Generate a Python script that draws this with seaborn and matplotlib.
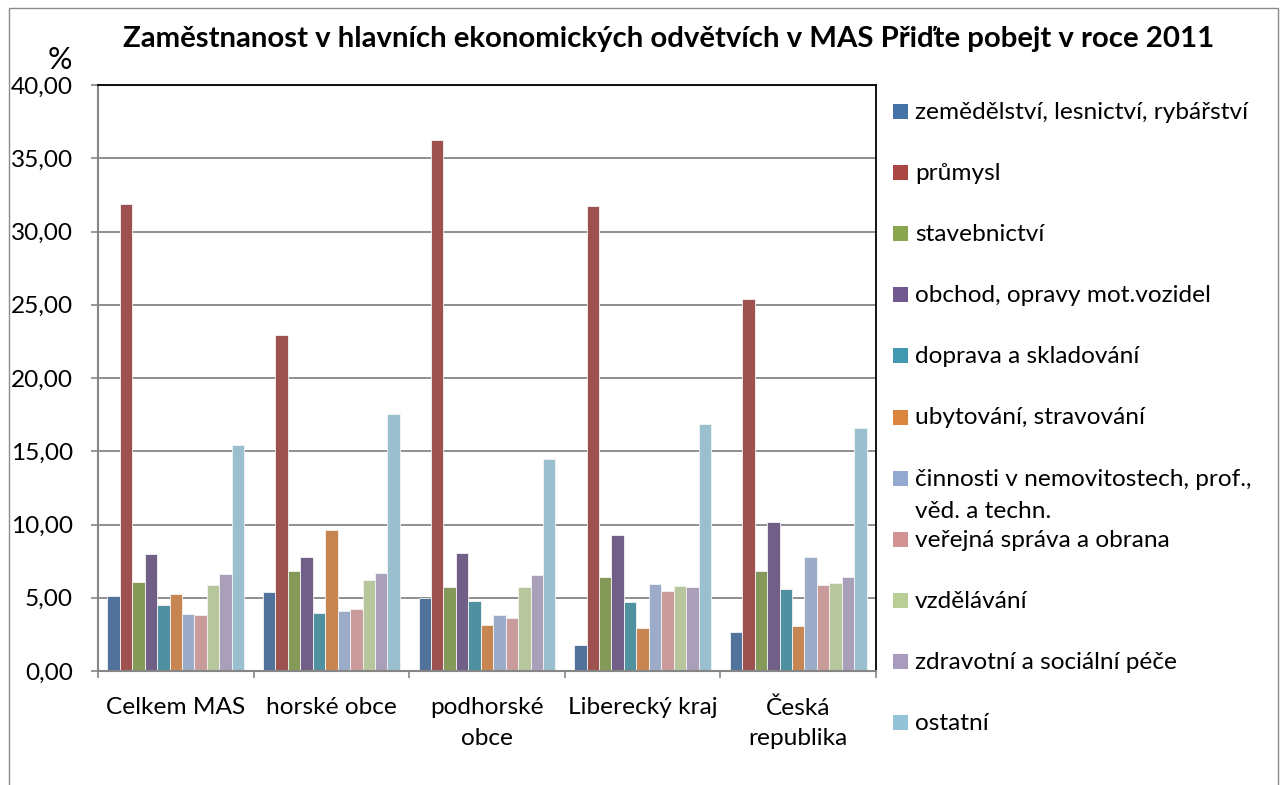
import matplotlib
matplotlib.use("Agg")
import matplotlib.pyplot as plt
import seaborn as sns
import pandas as pd
from matplotlib.patches import Rectangle
from matplotlib.ticker import FuncFormatter, FixedLocator

# ---------------- data ----------------
categories = ["Celkem MAS", "horské obce", "podhorské\nobce", "Liberecký kraj", "Česká\nrepublika"]
sectors = [
    "zemědělství, lesnictví, rybářství",
    "průmysl",
    "stavebnictví",
    "obchod, opravy mot.vozidel",
    "doprava a skladování",
    "ubytování, stravování",
    "činnosti v nemovitostech, prof.,\nvěd. a techn.",
    "veřejná správa a obrana",
    "vzdělávání",
    "zdravotní a sociální péče",
    "ostatní",
]
zemedelstvi = [5.09, 5.36, 4.98, 1.78, 2.67]
prumysl = [31.90, 22.95, 36.25, 31.75, 25.40]
stavebnictvi = [6.10, 6.83, 5.75, 6.44, 6.83]
obchod = [8.01, 7.81, 8.08, 9.25, 10.16]
doprava = [4.50, 3.93, 4.77, 4.73, 5.60]
ubytovani = [5.27, 9.64, 3.13, 2.92, 3.08]
cinnosti = [3.90, 4.09, 3.79, 5.96, 7.76]
verejna_sprava = [3.81, 4.22, 3.63, 5.48, 5.87]
vzdelavani = [5.89, 6.19, 5.73, 5.82, 6.00]
zdravotni = [6.60, 6.71, 6.55, 5.73, 6.44]
ostatni = [15.46, 17.53, 14.47, 16.85, 16.58]
y_ticks = [0, 5, 10, 15, 20, 25, 30, 35, 40]

series = [zemedelstvi, prumysl, stavebnictvi, obchod, doprava, ubytovani,
          cinnosti, verejna_sprava, vzdelavani, zdravotni, ostatni]
colors = ["#4572A7", "#AA4643", "#89A54E", "#71588F", "#4198AF", "#DB843D",
          "#93A9CF", "#D19392", "#B9CD96", "#A99BBD", "#92C3D6"]

rows = []
for s, vals in zip(sectors, series):
    for c, v in zip(categories, vals):
        rows.append({"kategorie": c, "odvetvi": s, "hodnota": v})
df = pd.DataFrame(rows)

# ---------------- figure ----------------
W, H = 1282, 785
fig = plt.figure(figsize=(W / 100, H / 100), dpi=100)
plt.rcParams["font.family"] = ["Lato", "DejaVu Sans"]
FONT = ["Lato", "DejaVu Sans"]
FS = 17.6

def fx(px):
    return px / W

def fy(py):
    return 1 - py / H

# outer chart border
fig.patches.append(Rectangle((fx(9), fy(800)), fx(1278) - fx(9), fy(8) - fy(800),
                             transform=fig.transFigure, fill=False,
                             edgecolor="#8C8C8C", linewidth=1.0))

ax = fig.add_axes([fx(98), fy(671), fx(876) - fx(98), fy(85) - fy(671)])

sns.barplot(data=df, x="kategorie", y="hodnota", hue="odvetvi",
            order=categories, hue_order=sectors, palette=colors,
            width=0.88, edgecolor="#F4F4F4", linewidth=0.6, ax=ax,
            legend=False, errorbar=None)

ax.set_ylim(0, 40)
ax.set_xlim(-0.5, len(categories) - 0.5)
ax.yaxis.set_major_locator(FixedLocator(y_ticks))
ax.yaxis.set_major_formatter(FuncFormatter(lambda v, p: f"{v:.2f}".replace(".", ",")))
ax.grid(axis="y", color="#868686", linewidth=1.3)
ax.set_axisbelow(True)
ax.set_xlabel("")
ax.set_ylabel("")

for side in ["top", "right"]:
    ax.spines[side].set_color("black")
    ax.spines[side].set_linewidth(1.3)
for side in ["left", "bottom"]:
    ax.spines[side].set_color("#868686")
    ax.spines[side].set_linewidth(1.5)

ax.tick_params(axis="y", length=5, width=1.2, color="#868686", pad=13,
               labelsize=FS, labelcolor="black")
ax.tick_params(axis="x", which="major", length=0, pad=19, labelsize=FS,
               labelcolor="black")
ax.set_xticks(range(len(categories)))
ax.set_xticklabels(categories, fontsize=FS, linespacing=1.55)
ax.set_xticks([i - 0.5 for i in range(len(categories) + 1)], minor=True)
ax.tick_params(axis="x", which="minor", length=5, width=1.2, color="#868686")

# title and unit
fig.text(fx(669), fy(47), "Zaměstnanost v hlavních ekonomických odvětvích v MAS Přiďte pobejt v roce 2011",
         ha="center", va="baseline", fontsize=21.2, fontweight="bold", family=FONT)
fig.text(fx(60), fy(69), "%", ha="center", va="baseline", fontsize=22, family=FONT)

# legend (manual, Excel-style)
y0 = 111.5
dy = 61.1
for i, (lab, col) in enumerate(zip(sectors, colors)):
    yc = y0 + i * dy
    fig.patches.append(Rectangle((fx(893), fy(yc + 7.5)), fx(15), 15 / H,
                                 transform=fig.transFigure, facecolor=col,
                                 edgecolor="none"))
    for k, line in enumerate(lab.split("\n")):
        fig.text(fx(915), fy(yc + 7.5 + k * 32), line, ha="left", va="baseline",
                 fontsize=FS, family=FONT)

fig.savefig("out.png", dpi=100)
